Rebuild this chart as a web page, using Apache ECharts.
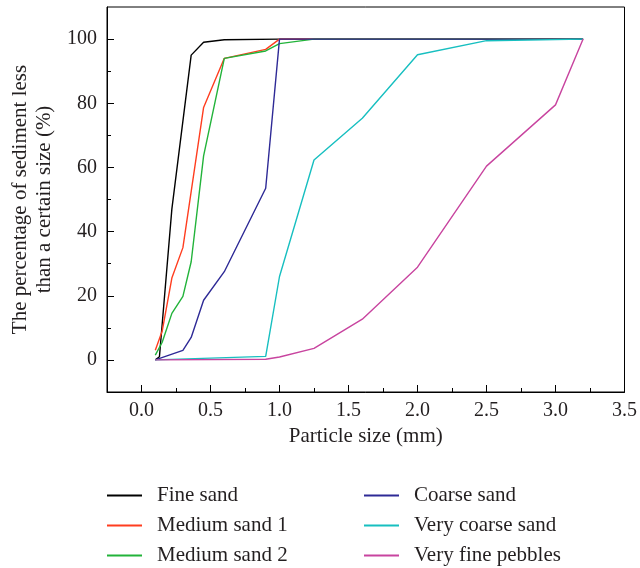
<!DOCTYPE html>
<html>
<head>
<meta charset="utf-8">
<script src="https://cdn.jsdelivr.net/npm/echarts@6/dist/echarts.min.js"></script>
<style>
  html, body { margin: 0; padding: 0; background: #fff; }
  #chart { width: 640px; height: 568px; }
</style>
</head>
<body>
<div id="chart"></div>
<script>
// 读图得到的数据
const seriesNames = ['Fine sand', 'Medium sand 1', 'Medium sand 2', 'Coarse sand', 'Very coarse sand', 'Very fine pebbles']
const seriesColors = ['#000000', '#ff3d1f', '#22b33a', '#2e2a96', '#17bfc0', '#c8449f']

const fineX = [0.1, 0.13, 0.22, 0.36, 0.45, 0.6, 1.0, 3.2]
const fineY = [0, 1, 47, 95, 99, 99.8, 100, 100]
const medium1X = [0.1, 0.15, 0.22, 0.3, 0.45, 0.6, 0.9, 1.0, 3.2]
const medium1Y = [3, 9, 25.5, 35, 78.7, 94, 96.8, 100, 100]
const medium2X = [0.1, 0.15, 0.22, 0.3, 0.36, 0.45, 0.6, 0.9, 1.0, 1.25, 3.2]
const medium2Y = [1.5, 5.5, 14.5, 19.8, 30.6, 63.6, 94, 96.3, 98.6, 100, 100]
const coarseX = [0.1, 0.3, 0.36, 0.45, 0.6, 0.9, 1.0, 3.2]
const coarseY = [0, 3, 7, 18.6, 27.5, 53.5, 100, 100]
const veryCoarseX = [0.1, 0.9, 1.0, 1.25, 1.6, 2.0, 2.5, 3.2]
const veryCoarseY = [0, 1.1, 26, 62.3, 75.3, 95.1, 99.5, 100]
const pebblesX = [0.1, 0.9, 1.0, 1.25, 1.6, 2.0, 2.5, 3.0, 3.2]
const pebblesY = [0, 0.2, 0.9, 3.6, 12.7, 28.9, 60.4, 79.5, 100]

const xTicks = [0, 0.5, 1.0, 1.5, 2.0, 2.5, 3.0, 3.5]
const xMinorTicks = [0.25, 0.75, 1.25, 1.75, 2.25, 2.75, 3.25]
const yTicks = [0, 20, 40, 60, 80, 100]
const yMinorTicks = [10, 30, 50, 70, 90]

const allX = [fineX, medium1X, medium2X, coarseX, veryCoarseX, pebblesX]
const allY = [fineY, medium1Y, medium2Y, coarseY, veryCoarseY, pebblesY]

const font = 'Liberation Serif'
const tickText = { fontFamily: font, fontSize: 20, color: '#231f20' }
const titleText = { fontFamily: font, fontSize: 21, color: '#231f20' }

const chart = echarts.init(document.getElementById('chart'))

const series = seriesNames.map((name, i) => ({
  name,
  type: 'line',
  data: allX[i].map((x, j) => [x, allY[i][j]]),
  showSymbol: false,
  color: seriesColors[i],
  lineStyle: { color: seriesColors[i], width: 1.4 },
  emphasis: { disabled: true }
}))

const legendBase = {
  orient: 'vertical',
  top: 485,
  height: 90,
  padding: 0,
  icon: 'rect',
  itemWidth: 35,
  itemHeight: 2,
  itemGap: 9,
  textStyle: { ...titleText, lineHeight: 20, padding: [0, 0, 0, 10] }
}

// 只画刻度线的辅助轴
const tickAxis = (min, max, values, len) => ({
  type: 'value', min, max,
  axisLine: { show: false, onZero: false },
  axisTick: { show: true, inside: true, length: len, customValues: values, lineStyle: { color: '#000' } },
  axisLabel: { show: false },
  splitLine: { show: false }
})

chart.setOption({
  animation: false,
  grid: {
    left: 107, right: 14, top: 7, bottom: 176,
    show: true, borderColor: '#000', borderWidth: 1
  },
  legend: [
    { ...legendBase, left: 107, data: seriesNames.slice(0, 3) },
    { ...legendBase, left: 364, data: seriesNames.slice(3) }
  ],
  xAxis: [
    {
      type: 'value', min: -0.25, max: 3.5,
      name: 'Particle size (mm)', nameLocation: 'middle', nameGap: 32,
      nameTextStyle: titleText,
      axisLine: { onZero: false, lineStyle: { color: '#000' } },
      axisTick: { show: false },
      axisLabel: { ...tickText, margin: 9, customValues: xTicks, formatter: v => v.toFixed(1) },
      splitLine: { show: false }
    },
    { ...tickAxis(-0.25, 3.5, xTicks, 7), position: 'bottom' },
    { ...tickAxis(-0.25, 3.5, xMinorTicks, 4), position: 'bottom' }
  ],
  yAxis: [
    {
      type: 'value', min: -10, max: 110,
      name: 'The percentage of sediment less\nthan a certain size (%)',
      nameLocation: 'middle', nameRotate: 90, nameGap: 38,
      nameTextStyle: { ...titleText, lineHeight: 24 },
      axisLine: { show: true, onZero: false, lineStyle: { color: '#000' } },
      axisTick: { show: false },
      axisLabel: { ...tickText, margin: 10, customValues: yTicks },
      splitLine: { show: false }
    },
    { ...tickAxis(-10, 110, yTicks, 7), position: 'left' },
    { ...tickAxis(-10, 110, yMinorTicks, 4), position: 'left' }
  ],
  series
})
</script>
</body>
</html>
